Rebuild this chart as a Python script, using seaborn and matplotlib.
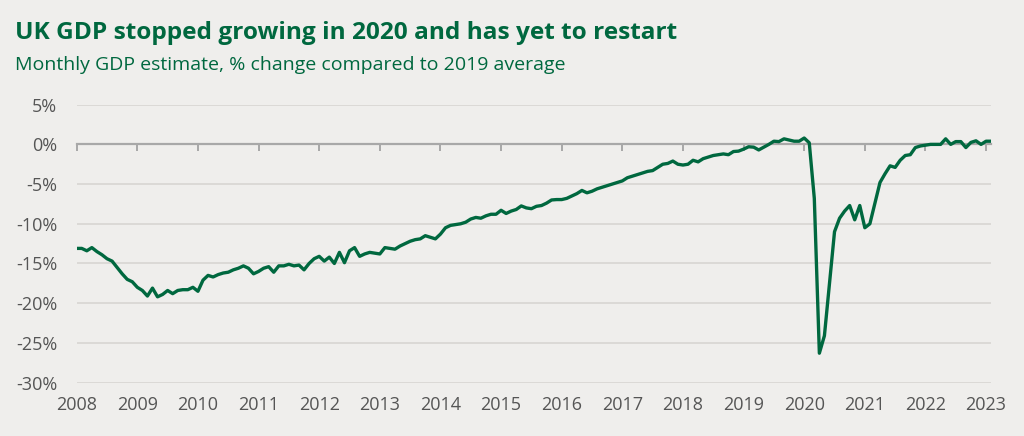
import numpy as np
import pandas as pd
import matplotlib.pyplot as plt
import matplotlib.ticker as ticker
import seaborn as sns

# monthly GDP, % change vs 2019 average
first_month = '2008-01-01'
gdp_change = [
    -13.1, -13.1, -13.4, -13.0, -13.5, -13.9, -14.4, -14.7, -15.5, -16.3, -17.0, -17.3,   # 2008
    -18.0, -18.4, -19.1, -18.1, -19.2, -18.9, -18.4, -18.8, -18.4, -18.3, -18.3, -18.0,   # 2009
    -18.5, -17.1, -16.5, -16.7, -16.4, -16.2, -16.1, -15.8, -15.6, -15.3, -15.6, -16.3,   # 2010
    -16.0, -15.6, -15.4, -16.1, -15.3, -15.3, -15.1, -15.3, -15.2, -15.8, -15.0, -14.4,   # 2011
    -14.1, -14.7, -14.2, -15.0, -13.6, -14.9, -13.4, -13.0, -14.1, -13.8, -13.6, -13.7,   # 2012
    -13.8, -13.0, -13.1, -13.2, -12.8, -12.5, -12.2, -12.0, -11.9, -11.5, -11.7, -11.9,   # 2013
    -11.3, -10.5, -10.2, -10.1, -10.0, -9.8, -9.4, -9.2, -9.3, -9.0, -8.8, -8.8,          # 2014
    -8.3, -8.7, -8.4, -8.2, -7.75, -8.0, -8.1, -7.8, -7.7, -7.4, -7.0, -6.95,             # 2015
    -6.95, -6.8, -6.5, -6.2, -5.8, -6.1, -5.9, -5.6, -5.4, -5.2, -5.0, -4.8,              # 2016
    -4.6, -4.2, -4.0, -3.8, -3.6, -3.4, -3.3, -2.9, -2.5, -2.4, -2.1, -2.5,               # 2017
    -2.6, -2.5, -2.0, -2.2, -1.8, -1.6, -1.4, -1.3, -1.2, -1.3, -0.9, -0.85,              # 2018
    -0.6, -0.3, -0.35, -0.7, -0.35, 0.0, 0.4, 0.35, 0.7, 0.55, 0.4, 0.4,                  # 2019
    0.8, 0.2, -6.8, -26.3, -24.1, -17.5, -11.0, -9.3, -8.4, -7.7, -9.5, -7.7,             # 2020
    -10.5, -10.0, -7.4, -4.8, -3.7, -2.7, -2.9, -2.0, -1.4, -1.3, -0.4, -0.2,             # 2021
    -0.1, 0.0, 0.0, 0.0, 0.7, 0.0, 0.35, 0.35, -0.4, 0.25, 0.45, 0.0,                     # 2022
    0.4, 0.4,                                                                              # 2023
]
year_ticks = list(range(2008, 2024))
pct_ticks = [5, 0, -5, -10, -15, -20, -25, -30]

title = 'UK GDP stopped growing in 2020 and has yet to restart'
subtitle = 'Monthly GDP estimate, % change compared to 2019 average'

bg = '#efeeec'
green = '#00683f'
grey_txt = '#555555'

dates = pd.date_range(first_month, periods=len(gdp_change), freq='MS')
df = pd.DataFrame({'year': dates.year + (dates.month - 1) / 12, 'gdp': gdp_change})

sns.set_style('white')
plt.rcParams['font.family'] = ['Open Sans', 'DejaVu Sans']

fig = plt.figure(figsize=(10.24, 4.36), dpi=100, facecolor=bg)
ax = fig.add_axes([0.0749, 0.1225, 0.893, 0.6374], facecolor=bg)

sns.lineplot(data=df, x='year', y='gdp', ax=ax, color=green, linewidth=2.4, zorder=3)

ax.set_xlim(df['year'].iloc[0], df['year'].iloc[-1])
ax.set_ylim(-30, 5)
ax.set_yticks(pct_ticks)
ax.yaxis.set_major_formatter(ticker.FuncFormatter(lambda v, p: f'{v:.0f}%'))
ax.tick_params(axis='y', left=False, length=0, pad=14, labelsize=13, labelcolor=grey_txt)
ax.grid(axis='y', color='#d9d7d4', linewidth=1.3)
ax.grid(axis='x', visible=False)
for s in ['top', 'right', 'left']:
    ax.spines[s].set_visible(False)

# zero line with year tick marks
ax.spines['bottom'].set_position(('data', 0))
ax.spines['bottom'].set_color('#a8a8a8')
ax.spines['bottom'].set_linewidth(1.6)
ax.spines['bottom'].set_zorder(2)
ax.set_xticks(year_ticks)
ax.tick_params(axis='x', bottom=True, direction='out', length=5, width=1.4,
               color='#a8a8a8', labelbottom=False)
ax.set_xlabel('')
ax.set_ylabel('')

# year labels at the bottom
sec = ax.secondary_xaxis('bottom')
sec.set_xticks(year_ticks)
sec.xaxis.set_major_formatter(ticker.FuncFormatter(lambda v, p: f'{v:.0f}'))
sec.tick_params(bottom=False, length=0, pad=10, labelsize=13, labelcolor=grey_txt)
sec.spines['bottom'].set_visible(False)

fig.text(0.0146, 0.925, title, fontsize=17.6, fontweight='bold', color=green, va='center', ha='left')
fig.text(0.0146, 0.851, subtitle, fontsize=14, color=green, va='center', ha='left')

plt.savefig('out.png', dpi=100, facecolor=bg)
plt.close()
